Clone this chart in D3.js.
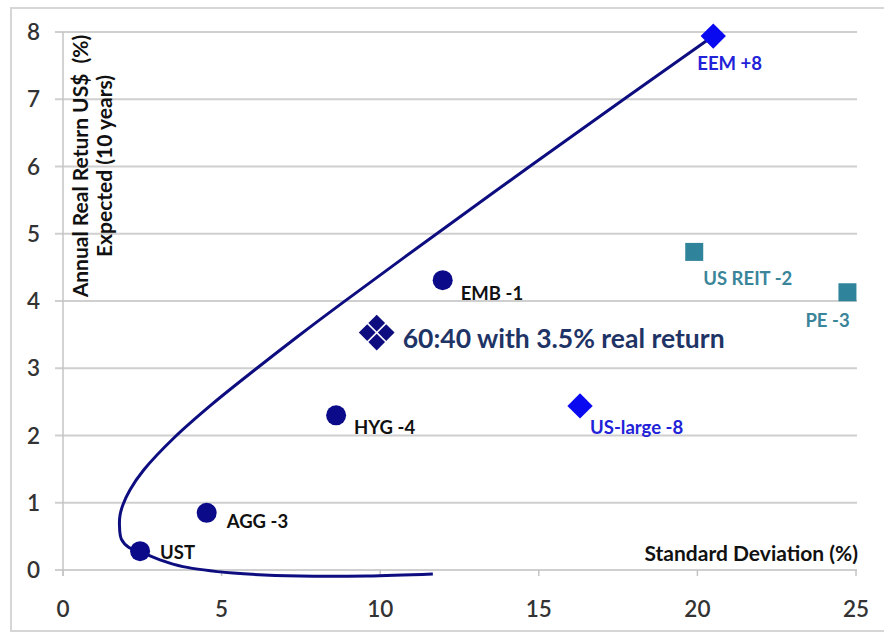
<!DOCTYPE html>
<html>
<head>
<meta charset="utf-8">
<script src="https://cdn.jsdelivr.net/npm/d3@7"></script>
<style>
  html, body { margin: 0; padding: 0; background: #fff; }
  svg { display: block; }
  text { font-family: Lato, "Open Sans", sans-serif; }
</style>
</head>
<body>
<svg id="chart" width="884" height="634"></svg>
<script>
// ---- data ----
const xTicks = [0, 5, 10, 15, 20, 25];
const yTicks = [0, 1, 2, 3, 4, 5, 6, 7, 8];

// efficient-frontier style curve (std dev %, real return %)
const frontierX = [11.66, 9.58, 7.47, 5.36, 3.78, 3.06, 2.43, 2.08, 1.84, 1.78, 1.80, 1.89, 2.11, 2.55, 3.51, 4.71, 6.03, 7.42, 8.83, 11.75, 14.71, 17.68, 20.5];
const frontierY = [-0.06, -0.09, -0.09, -0.045, 0.05, 0.15, 0.27, 0.335, 0.46, 0.67, 0.82, 0.97, 1.19, 1.49, 1.97, 2.47, 2.97, 3.48, 3.98, 4.99, 6.0, 7.0, 7.94];

// bond assets (circles)
const bondNames = ["UST", "AGG -3", "HYG -4", "EMB -1"];
const bondX = [2.43, 4.53, 8.61, 11.97];
const bondY = [0.28, 0.85, 2.30, 4.31];

// equity assets (diamonds)
const equityNames = ["US-large -8", "EEM +8"];
const equityX = [16.3, 20.5];
const equityY = [2.44, 7.94];

// real assets (squares)
const realNames = ["US REIT -2", "PE -3"];
const realX = [19.9, 24.73];
const realY = [4.73, 4.13];

// 60:40 portfolio
const portfolioName = "60:40 with 3.5% real return";
const portfolioX = [9.89];
const portfolioY = [3.53];

const xTitle = "Standard Deviation (%)";
const yTitle1 = "Annual Real Return US$\u00A0\u00A0(%)";
const yTitle2 = "Expected (10 years)";

// ---- layout ----
const svg = d3.select("#chart");
const x = d3.scaleLinear().domain([0, 25]).range([63, 856]);
const y = d3.scaleLinear().domain([0, 8]).range([570, 32]);

// outer frame
svg.append("rect").attr("x", 11).attr("y", 8).attr("width", 890).attr("height", 623)
  .attr("fill", "none").attr("stroke", "#d6d6d6").attr("stroke-width", 2);

// gridlines
svg.append("g").selectAll("line").data(yTicks).join("line")
  .attr("x1", 55).attr("x2", x(25) + 1)
  .attr("y1", d => y(d)).attr("y2", d => y(d))
  .attr("stroke", "#cfcfcf").attr("stroke-width", 2);

// y axis line
svg.append("line").attr("x1", x(0)).attr("x2", x(0)).attr("y1", y(8)).attr("y2", y(0) + 6)
  .attr("stroke", "#c4c4c4").attr("stroke-width", 1.5);

// x axis tick marks
svg.append("g").selectAll("line").data(xTicks).join("line")
  .attr("x1", d => x(d)).attr("x2", d => x(d))
  .attr("y1", y(0)).attr("y2", y(0) + 6)
  .attr("stroke", "#c4c4c4").attr("stroke-width", 1.5);

// tick labels
svg.append("g").selectAll("text").data(yTicks).join("text")
  .attr("x", 40).attr("y", d => y(d) + 8)
  .attr("text-anchor", "end")
  .attr("font-size", 22.5).attr("font-weight", 600).attr("fill", "#333")
  .text(d => d);

svg.append("g").selectAll("text").data(xTicks).join("text")
  .attr("x", d => x(d)).attr("y", 617)
  .attr("text-anchor", "middle")
  .attr("font-size", 22.5).attr("font-weight", 600).attr("fill", "#333")
  .text(d => d);

// axis titles
svg.append("text").attr("x", x(25) + 2).attr("y", 561)
  .attr("text-anchor", "end").attr("font-size", 21).attr("font-weight", "bold")
  .attr("fill", "#111").text(xTitle);

const yt = svg.append("g").attr("transform", "translate(0,166) rotate(-90)");
yt.append("text").attr("x", 0).attr("y", 88).attr("text-anchor", "middle")
  .attr("font-size", 21).attr("font-weight", "bold").attr("fill", "#111").text(yTitle1);
yt.append("text").attr("x", 0).attr("y", 112).attr("text-anchor", "middle")
  .attr("font-size", 21).attr("font-weight", "bold").attr("fill", "#111").text(yTitle2);

// frontier curve
const frontier = frontierX.map((d, i) => [d, frontierY[i]]);
const line = d3.line().x(d => x(d[0])).y(d => y(d[1])).curve(d3.curveCatmullRom.alpha(0.5));
svg.append("path").attr("d", line(frontier))
  .attr("fill", "none").attr("stroke", "#0d0d80").attr("stroke-width", 3);

// bond circles
const bondOffsets = [[20, 8], [20, 15], [18, 19], [18, 20]];
bondNames.forEach((n, i) => {
  svg.append("circle").attr("cx", x(bondX[i])).attr("cy", y(bondY[i])).attr("r", 10)
    .attr("fill", "#0b0b8a");
  svg.append("text").attr("x", x(bondX[i]) + bondOffsets[i][0]).attr("y", y(bondY[i]) + bondOffsets[i][1])
    .attr("font-size", 18.5).attr("font-weight", "bold").attr("fill", "#111").text(n);
});

// equity diamonds
const sqSym = d3.symbol().type(d3.symbolSquare);
const equityOffsets = [[10, 28], [-16, 34]];
equityNames.forEach((n, i) => {
  svg.append("path").attr("d", sqSym.size(320)())
    .attr("transform", `translate(${x(equityX[i])},${y(equityY[i])}) rotate(45)`)
    .attr("fill", "#0a0af0");
  svg.append("text").attr("x", x(equityX[i]) + equityOffsets[i][0]).attr("y", y(equityY[i]) + equityOffsets[i][1])
    .attr("font-size", 18.5).attr("font-weight", "bold").attr("fill", "#2222d8").text(n);
});

// real asset squares
const realOffsets = [[9, 33], [-42, 35]];
realNames.forEach((n, i) => {
  svg.append("path").attr("d", sqSym.size(324)())
    .attr("transform", `translate(${x(realX[i])},${y(realY[i])})`)
    .attr("fill", "#2f849b");
  svg.append("text").attr("x", x(realX[i]) + realOffsets[i][0]).attr("y", y(realY[i]) + realOffsets[i][1])
    .attr("font-size", 18.5).attr("font-weight", "bold").attr("fill", "#3a8599").text(n);
});

// 60:40 portfolio marker: four small diamonds forming a split diamond
const px = x(portfolioX[0]), py = y(portfolioY[0]);
[[0, -9.5], [-9.5, 0], [9.5, 0], [0, 9.5]].forEach(o => {
  svg.append("path").attr("d", sqSym.size(140)())
    .attr("transform", `translate(${px + o[0]},${py + o[1]}) rotate(45)`)
    .attr("fill", "#0d0d80");
});
svg.append("text").attr("x", px + 26).attr("y", py + 15)
  .attr("font-size", 26.5).attr("font-weight", "bold").attr("fill", "#1f3466").text(portfolioName);
</script>
</body>
</html>
